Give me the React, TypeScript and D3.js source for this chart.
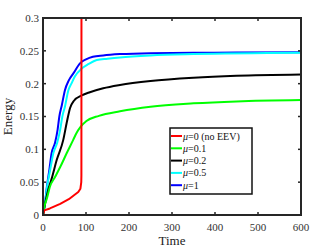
import * as d3 from 'd3'

const W = 332
const H = 249
const M = { left: 43, right: 31, top: 18, bottom: 34 }

const xTicks = [0, 100, 200, 300, 400, 500, 600]
const yTicks = [0, 0.05, 0.1, 0.15, 0.2, 0.25, 0.3]

const redT = [0, 3, 16, 40, 60, 82, 87, 89, 89.3, 89.5]
const redV = [0, 0.007, 0.01, 0.017, 0.024, 0.035, 0.04, 0.05, 0.06, 0.4]

const greenT = [0, 4, 9, 16, 28, 40, 55, 70, 78, 86, 101, 130, 179, 250, 350, 450, 600]
const greenV = [0, 0.015, 0.025, 0.043, 0.058, 0.073, 0.094, 0.114, 0.125, 0.133, 0.143, 0.151, 0.158, 0.165, 0.17, 0.173, 0.175]

const blackT = [0, 5, 12, 20, 32, 47, 55, 63, 72, 90, 109, 140, 179, 250, 350, 450, 600]
const blackV = [0, 0.018, 0.038, 0.055, 0.084, 0.114, 0.14, 0.163, 0.174, 0.182, 0.187, 0.193, 0.198, 0.204, 0.209, 0.212, 0.214]

const cyanT = [0, 5, 10, 17, 24, 33, 40, 45, 51, 59, 66, 74, 90, 106, 125, 150, 179, 250, 350, 600]
const cyanV = [0, 0.02, 0.045, 0.07, 0.094, 0.11, 0.13, 0.15, 0.165, 0.19, 0.2, 0.211, 0.223, 0.23, 0.236, 0.238, 0.24, 0.243, 0.245, 0.247]

const blueT = [0, 4, 9, 15, 20, 28, 34, 38, 44, 51, 60, 71, 86, 100, 116, 140, 179, 250, 350, 450, 600]
const blueV = [0, 0.015, 0.043, 0.07, 0.094, 0.11, 0.13, 0.15, 0.168, 0.19, 0.205, 0.216, 0.231, 0.237, 0.241, 0.243, 0.245, 0.2465, 0.247, 0.2475, 0.248]

const legendMu = ['0 (no EEV)', '0.1', '0.2', '0.5', '1']
const legendColors = ['#ff0000', '#00ff00', '#000000', '#00ffff', '#0000ff']

const series = [
  { t: blueT, v: blueV, color: '#0000ff', smooth: true },
  { t: cyanT, v: cyanV, color: '#00ffff', smooth: true },
  { t: blackT, v: blackV, color: '#000000', smooth: true },
  { t: greenT, v: greenV, color: '#00ff00', smooth: true },
  { t: redT, v: redV, color: '#ff0000', smooth: false },
]

const font = '"Liberation Serif", "DejaVu Serif", serif'
const axisColor = '#262626'

export default function App() {
  const x = d3.scaleLinear().domain([0, 600]).range([M.left, W - M.right])
  const y = d3.scaleLinear().domain([0, 0.3]).range([H - M.bottom, M.top])

  const line = (smooth: boolean) =>
    d3.line<[number, number]>()
      .x(d => x(d[0]))
      .y(d => y(d[1]))
      .curve(smooth ? d3.curveMonotoneX : d3.curveLinear)

  const x0 = x(0), x1 = x(600), y0 = y(0), y1 = y(0.3)
  const legX = 170, legY = 128, legW = 82, legH = 66, legStep = 12.3

  return (
    <svg width={W} height={H} style={{ position: 'absolute', left: 0, top: 0, background: '#fff' }} fontFamily={font}>
      <defs>
        <clipPath id="plot">
          <rect x={x0} y={y1} width={x1 - x0} height={y0 - y1} />
        </clipPath>
      </defs>

      <g clipPath="url(#plot)">
        {series.map((s, i) => (
          <path key={i}
            d={line(s.smooth)(s.t.map((t, j) => [t, s.v[j]] as [number, number])) || ''}
            fill="none" stroke={s.color} strokeWidth={2} strokeLinejoin="round" />
        ))}
      </g>

      {/* ticks, inward on all four sides */}
      {xTicks.map(t => (
        <g key={'xt' + t}>
          <line x1={x(t)} x2={x(t)} y1={y0} y2={y0 - 3} stroke={axisColor} strokeWidth={1.5} />
          <line x1={x(t)} x2={x(t)} y1={y1} y2={y1 + 3} stroke={axisColor} strokeWidth={1.5} />
          <text x={x(t)} y={y0 + 16} textAnchor="middle" fontSize={11} fill="#333">{t}</text>
        </g>
      ))}
      {yTicks.map(t => (
        <g key={'yt' + t}>
          <line x1={x0} x2={x0 + 3} y1={y(t)} y2={y(t)} stroke={axisColor} strokeWidth={1.5} />
          <line x1={x1} x2={x1 - 3} y1={y(t)} y2={y(t)} stroke={axisColor} strokeWidth={1.5} />
          <text x={x0 - 4} y={y(t)} dy="0.35em" textAnchor="end" fontSize={11} fill="#333">{+t.toFixed(2)}</text>
        </g>
      ))}

      <rect x={x0} y={y1} width={x1 - x0} height={y0 - y1} fill="none" stroke={axisColor} strokeWidth={2} />

      <text x={(x0 + x1) / 2} y={H - 4} textAnchor="middle" fontSize={13} fill="#222">Time</text>
      <text transform={`translate(12,${(y0 + y1) / 2}) rotate(-90)`} textAnchor="middle" fontSize={13} fill="#222">Energy</text>

      {/* legend */}
      <g>
        <rect x={legX} y={legY} width={legW} height={legH} fill="#fff" stroke="#111" strokeWidth={1.5} />
        {legendMu.map((m, i) => {
          const ly = legY + 8 + i * legStep
          return (
            <g key={m}>
              <line x1={legX + 1} x2={legX + 12} y1={ly} y2={ly} stroke={legendColors[i]} strokeWidth={2} />
              <text x={legX + 13} y={ly} dy="0.35em" fontSize={10} fill="#111">
                <tspan fontStyle="italic">μ</tspan>={m}
              </text>
            </g>
          )
        })}
      </g>
    </svg>
  )
}
